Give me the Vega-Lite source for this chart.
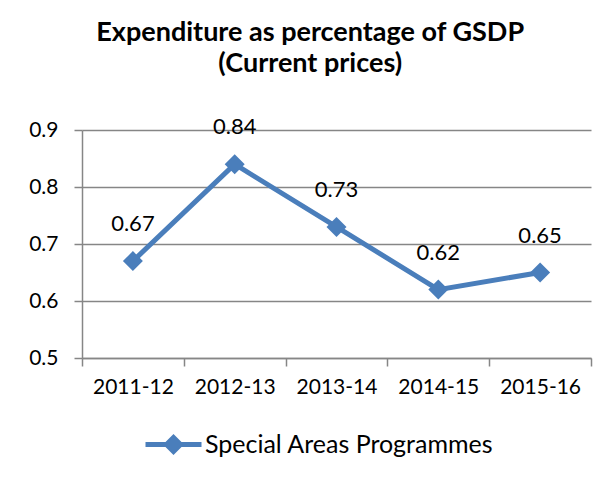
{
  "$schema": "https://vega.github.io/schema/vega-lite/v6.json",
  "autosize": {"type": "none"},
  "width": 509,
  "height": 228,
  "padding": {"left": 82, "top": 130, "right": 22, "bottom": 124},
  "background": "white",
  "title": {
    "text": ["Expenditure as percentage of GSDP", "(Current prices)"],
    "font": "Lato",
    "fontSize": 27,
    "fontWeight": "bold",
    "color": "black",
    "anchor": "middle",
    "frame": "bounds",
    "lineHeight": 31,
    "offset": 38
  },
  "data": {
    "values": [
      {"year": "2011-12", "value": 0.67, "series": "Special Areas Programmes"},
      {"year": "2012-13", "value": 0.84, "series": "Special Areas Programmes"},
      {"year": "2013-14", "value": 0.73, "series": "Special Areas Programmes"},
      {"year": "2014-15", "value": 0.62, "series": "Special Areas Programmes"},
      {"year": "2015-16", "value": 0.65, "series": "Special Areas Programmes"}
    ]
  },
  "encoding": {
    "x": {
      "field": "year", "type": "ordinal", "title": null,
      "scale": {"paddingInner": 0, "paddingOuter": 0},
      "axis": {
        "labelAngle": 0, "labelFont": "Lato", "labelFontSize": 21, "labelColor": "black",
        "tickBand": "extent", "tickSize": 8, "tickColor": "#868686", "tickWidth": 1.5,
        "domainColor": "#868686", "domainWidth": 1.5, "labelPadding": 10, "grid": false
      }
    },
    "y": {
      "field": "value", "type": "quantitative", "title": null,
      "scale": {"domain": [0.5, 0.9], "nice": false, "zero": false},
      "axis": {
        "values": [0.5, 0.6, 0.7, 0.8, 0.9], "format": ".1f",
        "labelFont": "Lato", "labelFontSize": 21, "labelColor": "black",
        "tickSize": 8, "tickColor": "#868686", "tickWidth": 1.5,
        "domainColor": "#868686", "domainWidth": 1.5,
        "gridColor": "#868686", "gridWidth": 1.5, "labelPadding": 16
      }
    }
  },
  "layer": [
    {
      "mark": {"type": "line", "color": "#4a7ebb", "strokeWidth": 5}
    },
    {
      "mark": {"type": "point", "shape": "diamond", "filled": true, "size": 400, "opacity": 1},
      "encoding": {
        "color": {
          "field": "series", "type": "nominal", "title": null,
          "scale": {"range": ["#4a7ebb"]},
          "legend": {
            "orient": "none", "legendX": 79, "legendY": 302,
            "direction": "horizontal",
            "symbolType": "M-2.8,-0.25L2.8,-0.25L2.8,0.25L-2.8,0.25Z M0,-1.05L1.05,0L0,1.05L-1.05,0Z",
            "symbolSize": 400, "symbolOpacity": 1,
            "symbolFillColor": "#4a7ebb", "symbolStrokeColor": "#4a7ebb", "symbolStrokeWidth": 0,
            "labelFont": "Lato", "labelFontSize": 25, "labelColor": "black",
            "labelOffset": 19, "labelLimit": 400, "padding": 0
          }
        }
      }
    },
    {
      "mark": {"type": "text", "dy": -37, "font": "Lato", "fontSize": 22, "color": "black"},
      "encoding": {"text": {"field": "value", "type": "quantitative", "format": ".2f"}}
    }
  ],
  "config": {"view": {"stroke": null}}
}
